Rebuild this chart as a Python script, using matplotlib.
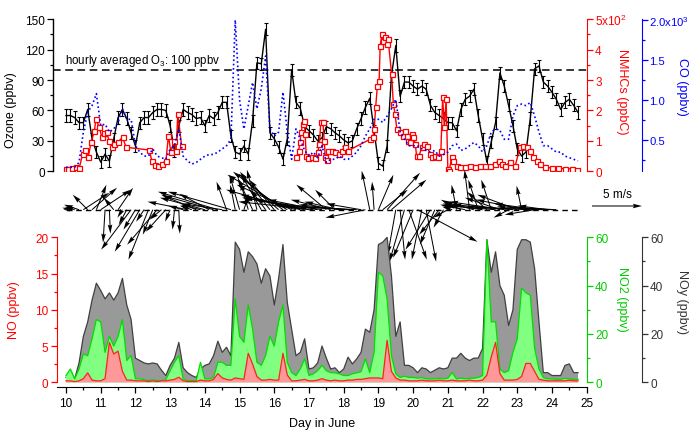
import numpy as np
import matplotlib
matplotlib.use('Agg')
import matplotlib.pyplot as plt
from matplotlib.ticker import MultipleLocator, FuncFormatter

plt.rcParams['font.family'] = ['Liberation Sans', 'DejaVu Sans']
plt.rcParams['font.size'] = 8.5
plt.rcParams['mathtext.default'] = 'regular'

# ---------------- data ----------------
DAY0 = 10.0
STEP = 0.125  # 3-hourly samples
N = 119
t3 = DAY0 + STEP * np.arange(N)

ozone = [55, 55, 53, 48, 48, 61, 32, 19, 9, 17, 10, 32, 53, 61, 52, 38,
         25, 48, 53, 53, 58, 61, 61, 60, 45, 20, 45, 61, 58, 56, 52, 53,
         45, 55, 52, 58, 68, 68, 35, 19, 17, 25, 17, 50, 107, 106, 140, 38,
         32, 24, 12, 32, 100, 68, 62, 44, 40, 36, 30, 33, 44, 42, 38, 35,
         31, 28, 30, 42, 52, 63, 72, 40, 8, 5, 25, 94, 124, 74, 88, 88,
         84, 81, 84, 81, 65, 58, 55, 52, 48, 48, 40, 61, 71, 74, 81, 55,
         32, 9, 29, 48, 97, 84, 65, 45, 22, 15, 19, 52, 101, 104, 88, 84,
         78, 71, 61, 68, 71, 65, 58]
O3_ERR = 6

co = [160, 160, 160, 220, 600, 850, 930, 1080, 680, 700, 600, 640, 720, 890, 760, 760,
      430, 350, 300, 300, 390, 300, 280, 260, 390, 430, 640, 300, 240, 200, 220, 260,
      300, 320, 320, 350, 390, 430, 510, 2000, 1000, 640, 930, 1220, 890, 1140, 1550, 640,
      550, 600, 1100, 600, 260, 640, 510, 370, 300, 350, 280, 430, 220, 260, 260, 300,
      260, 260, 300, 350, 430, 550, 640, 760, 760, 720, 800, 890, 1010, 600, 510, 430,
      430, 430, 390, 370, 350, 370, 300, 320, 350, 430, 450, 370, 390, 430, 470, 430,
      350, 430, 600, 640, 620, 510, 510, 800, 930, 950, 930, 970, 800, 600, 430, 430,
      390, 350, 350, 300, 280, 260, 240]

nmhc_day = [10.00, 10.07, 10.16, 10.29, 10.38, 10.48, 10.55, 10.64, 10.72, 10.82,
            10.86, 10.96, 11.03, 11.10, 11.17, 11.25, 11.32, 11.39, 11.49, 11.63,
            11.73, 12.40, 12.47, 12.57, 12.66, 12.76, 12.88, 12.95, 13.02, 13.12,
            13.17, 13.22, 13.33, 15.00,
            16.64, 16.70, 16.74, 16.77, 16.82, 16.86, 16.89, 16.92, 16.98, 17.08,
            17.17, 17.25, 17.30, 17.34, 17.40, 17.44, 17.47, 17.51, 17.56, 17.65,
            17.75, 17.85, 17.94, 18.04, 18.13, 18.77, 18.84, 18.88, 18.92, 18.97,
            19.02, 19.05, 19.10, 19.14, 19.19, 19.24, 19.28, 19.38, 19.43, 19.48,
            19.53, 19.62, 19.72, 19.77, 19.82, 19.86, 19.91, 19.96, 20.01, 20.06,
            20.10, 20.17, 20.25, 20.32, 20.39, 20.49, 20.54, 20.63, 20.73, 20.80,
            20.85, 20.90, 20.95, 21.00, 21.04, 21.11, 21.16, 21.26, 21.35, 21.50,
            21.64, 21.78, 21.93, 22.07, 22.22, 22.36, 22.46, 22.55, 22.65, 22.79,
            22.94, 23.08, 23.17, 23.27, 23.37, 23.46, 23.56, 23.66, 23.80, 23.99,
            24.18, 24.38, 24.57, 24.71]
nmhc_val = [8, 8, 10, 13, 10, 57, 70, 46, 95, 133,
            172, 144, 112, 125, 128, 98, 79, 90, 95, 112,
            79, 70, 35, 22, 18, 24, 35, 117, 64, 100,
            66, 188, 84, np.nan,
            46, 68, 95, 128, 155, 166, 122, 51, 44, 46,
            44, 62, 90, 161, 161, 100, 46, 38, 68, 68,
            62, 57, 68, 79, 68, 106, 112, 139, 210, 281,
            297, 412, 450, 428, 440, 417, 434, 319, 221, 188,
            139, 128, 117, 133, 115, 100, 95, 122, 112, 90,
            51, 51, 79, 90, 84, 57, 48, 51, 46, 68,
            243, 144, 237, 8, 2, 46, 35, 18, 15, 15,
            16, 15, 16, 18, 16, 24, 35, 24, 18, 29,
            18, 79, 84, 79, 68, 46, 35, 24, 13, 11,
            11, 8, 8, 5]

# wind (m/s), u eastward, v northward
wind_u = [-0.3, -0.8, -1.0, -1.5, 2.6, -1.5, 2.5, 1.0, 3.0, -0.2, 0.1, -1.0, 1.5, -0.5, -0.8, -3.0,
          -1.2, -2.5, -0.8, -2.0, -1.0, -3.0, -1.2, -2.0, -0.5, -0.2, 0.1, -1.5, -4.0, -1.2, -3.5, -2.0,
          -4.5, -3.0, -5.0, -6.0, -4.0, -1.0, -6.3, -0.5, -1.0, 0.5, -0.8, -1.5, -1.0, -2.0, -1.5, -3.0,
          -2.5, -4.0, -5.0, -6.0, -5.5, -7.0, -6.0, -5.0, -6.5, -7.5, -5.0, -8.0, -3.0, -4.0, -2.0, -3.5,
          -4.5, -7.0, -5.5, -8.0, -3.5, -4.0, -0.8, -0.2, 1.5, 2.5, 3.3, 3.5, -0.8, 0.5, -1.5, 1.8,
          -2.0, 6.0, -1.0, 1.0, -2.5, -1.5, -2.0, -1.0, -1.5, -1.0, -0.5, -2.0, -2.5, -0.5, -3.0, -1.0,
          -4.0, -2.0, -1.0, -5.0, -3.5, -5.5, -1.5, -6.0, -4.0, -0.5, -5.0, -6.5, -3.0, -4.5, -7.0, -3.0,
          -5.5, -4.0, np.nan, np.nan, np.nan, np.nan, np.nan]
wind_v = [0.1, 0.2, 0.3, 0.5, 1.7, 1.5, 2.2, 2.5, 2.0, -3.3, -2.4, 1.2, 2.2, -0.8, -1.5, -4.0,
          -2.0, -4.2, -1.2, -5.0, -2.5, -3.5, -1.0, -2.2, -1.2, -2.0, -2.4, 0.4, 0.8, 0.4, 1.5, 0.5,
          1.2, 1.6, 1.4, 1.8, 0.6, 2.8, 1.8, 2.5, 3.5, 1.5, 2.8, 3.2, 4.0, 3.5, 2.0, 3.8,
          3.0, 3.6, 3.8, 3.5, 2.5, 2.0, 1.5, 1.0, 1.2, 0.8, 1.0, 1.2, 2.5, 1.0, 2.0, 0.8,
          0.5, 0.5, 0.3, 0.4, 0.6, -0.8, 3.9, 2.8, 3.5, 2.0, 3.7, 3.0, -4.5, -5.0, -5.2, -5.0,
          -4.8, -3.2, -5.0, -5.2, -4.0, -3.5, -2.5, -1.8, -0.8, 0.3, 2.5, 1.0, 0.5, 4.0, 0.8, 3.0,
          0.6, 1.8, 3.0, 0.4, 1.2, 0.8, -0.8, 0.5, 1.5, 2.4, 1.0, 0.3, -0.5, 0.6, 0.2, 0.4,
          0.3, 0.2, np.nan, np.nan, np.nan, np.nan, np.nan]

no = [0.2, 0.2, 0.1, 0.2, 0.5, 1.3, 0.3, 0.2, 0.2, 0.5, 5.5, 3.9, 4.3, 1.5, 0.3, 0.3,
      0.2, 0.2, 0.2, 0.1, 0.2, 0.1, 0.2, 0.2, 0.3, 0.4, 0.7, 0.2, 0.1, 0.1, 0.1, 0.3,
      0.2, 0.2, 0.4, 1.2, 0.6, 0.4, 0.3, 0.6, 0.5, 0.4, 4.0, 2.5, 0.8, 0.3, 0.3, 0.4,
      0.3, 0.3, 4.0, 1.0, 0.2, 0.2, 0.3, 0.4, 0.2, 0.2, 0.3, 0.5, 0.3, 0.2, 0.3, 0.2,
      0.2, 0.3, 0.3, 0.4, 0.4, 0.5, 0.6, 0.6, 0.6, 0.5, 5.8, 1.5, 0.6, 0.3, 0.3, 0.2,
      0.2, 0.2, 0.3, 0.2, 0.2, 0.2, 0.3, 0.2, 0.2, 0.3, 0.2, 0.2, 0.2, 0.3, 0.2, 0.2,
      0.3, 1.0, 3.5, 5.5, 1.2, 0.3, 0.3, 0.3, 0.4, 0.8, 2.6, 2.6, 1.5, 0.4, 0.3, 0.2,
      0.2, 0.2, 0.2, 0.2, 0.3, 0.2, 0.2]

no2 = [2.8, 5.5, 1.4, 5.5, 11.7, 11.0, 18.0, 26.0, 25.0, 12.4, 19.0, 15.0, 19.0, 26.0, 9.0, 11.0,
       1.4, 1.4, 1.1, 0.7, 1.0, 0.7, 0.7, 1.1, 4.8, 8.3, 11.0, 1.4, 0.7, 0.7, 0.7, 8.3,
       1.4, 1.4, 2.0, 8.3, 8.3, 7.0, 7.0, 34.5, 19.0, 16.5, 32.0, 22.0, 8.3, 7.0, 11.0, 19.0,
       15.0, 25.0, 32.0, 8.3, 4.0, 2.8, 5.5, 9.7, 2.8, 3.5, 4.8, 7.0, 4.8, 4.0, 3.9, 3.5,
       2.8, 2.8, 3.5, 3.9, 4.4, 9.7, 4.0, 12.4, 45.5, 44.0, 34.5, 11.0, 3.5, 2.0, 2.5, 2.0,
       2.0, 1.7, 2.0, 1.4, 1.4, 1.4, 1.7, 1.4, 1.7, 4.0, 1.4, 1.7, 1.4, 1.7, 1.7, 2.0,
       2.8, 59.0, 25.0, 25.0, 5.5, 4.0, 4.8, 12.4, 18.0, 39.0, 37.0, 36.0, 14.0, 5.5, 2.0, 1.4,
       1.4, 1.2, 1.2, 1.6, 1.4, 1.2, 1.2]

noy = [2.0, 5.0, 1.4, 8.0, 19.0, 25.0, 34.0, 41.0, 38.0, 34.5, 37.0, 34.0, 37.0, 43.0, 32.0, 26.0,
       10.0, 9.0, 8.0, 7.6, 8.0, 7.6, 5.0, 2.8, 7.0, 10.0, 16.5, 6.0, 4.0, 2.8, 2.0, 5.5,
       7.0, 7.6, 11.0, 17.0, 12.4, 14.5, 11.0, 58.0, 55.0, 45.5, 54.0, 52.0, 49.0, 41.0, 47.0, 44.0,
       32.0, 43.0, 57.0, 33.0, 22.0, 11.0, 12.4, 18.0, 5.5, 6.0, 8.0, 15.0, 10.0, 5.5, 6.0, 4.0,
       5.5, 10.4, 7.6, 9.7, 12.4, 22.0, 20.7, 30.0, 57.0, 58.0, 60.0, 44.0, 19.0, 25.0, 7.0, 7.0,
       6.0, 4.0, 6.0, 5.5, 4.0, 5.0, 6.0, 5.5, 6.0, 10.0, 10.0, 12.0, 10.0, 9.0, 10.0, 10.0,
       14.0, 59.0, 45.5, 54.0, 40.0, 36.0, 23.5, 30.0, 55.0, 59.0, 59.0, 58.0, 47.0, 25.0, 4.0, 4.0,
       2.8, 2.8, 2.8, 7.0, 7.6, 4.0, 4.0]

# ---------------- figure ----------------
W, H = 690.0, 435.0
fig = plt.figure(figsize=(W / 100, H / 100), dpi=100)

RED = '#ff0000'
BLUE = '#0000ff'
GREEN = '#00cc00'
GREY = '#333333'


def px_box(x0, x1, ytop, ybot):
    return [x0 / W, 1 - ybot / H, (x1 - x0) / W, (ybot - ytop) / H]


def style_ticks(ax, color, major, minor, pad=2, size=8.5):
    ax.yaxis.set_major_locator(MultipleLocator(major))
    ax.yaxis.set_minor_locator(MultipleLocator(minor))
    ax.tick_params(axis='y', which='major', length=4, width=0.9, colors=color, pad=pad,
                   labelsize=size)
    ax.tick_params(axis='y', which='minor', length=2, width=0.9, colors=color)


def hide_spines(ax, keep):
    for k, s in ax.spines.items():
        s.set_visible(k in keep)


# ---- top panel: ozone / NMHCs / CO ----
ax_o3 = fig.add_axes(px_box(53.3, 586.7, 20.2, 172.3))
ax_o3.set_xlim(9.634, 25.0)
ax_o3.set_ylim(0, 150)
hide_spines(ax_o3, ['left'])
ax_o3.xaxis.set_visible(False)
style_ticks(ax_o3, 'k', 30, 15)
ax_o3.spines['left'].set_linewidth(1.0)
ax_o3.axhline(100, color='k', ls=(0, (5, 3)), lw=1.1, zorder=1)
ax_o3.text(9.97, 110, 'hourly averaged O$_3$: 100 ppbv', fontsize=8.3, va='center', ha='left')
ax_o3.errorbar(t3, ozone, yerr=O3_ERR, color='k', lw=1.0, elinewidth=0.8,
               capsize=1.6, capthick=0.8, zorder=3)
ax_o3.set_ylabel('Ozone (ppbv)', fontsize=9)
ax_o3.yaxis.set_label_coords(-0.068, 0.41)

ax_nm = ax_o3.twinx()
ax_nm.set_ylim(0, 500)
hide_spines(ax_nm, ['right'])
ax_nm.spines['right'].set_color(RED)
style_ticks(ax_nm, RED, 100, 50)
ax_nm.yaxis.set_major_formatter(FuncFormatter(
    lambda v, p: '5x10$^2$' if abs(v - 500) < 1 else '%d' % round(v / 100)))
ax_nm.plot(nmhc_day, nmhc_val, color=RED, lw=1.0, marker='s', ms=3.6,
           mfc='white', mec=RED, mew=0.9, zorder=2)
ax_nm.set_ylabel('NMHCs (ppbC)', color=RED, rotation=270, fontsize=9, va='center', ha='center')
ax_nm.yaxis.set_label_coords(1.066, 0.53)

ax_co = ax_o3.twinx()
ax_co.set_ylim(110, 2010)
hide_spines(ax_co, ['right'])
ax_co.spines['right'].set_position(('outward', 55.3 * 0.72))
ax_co.spines['right'].set_color(BLUE)
style_ticks(ax_co, BLUE, 500, 250, pad=1.2, size=8.1)
ax_co.yaxis.set_major_formatter(FuncFormatter(
    lambda v, p: '2.0x10$^3$' if abs(v - 2000) < 1 else '%.1f' % (v / 1000)))
ax_co.plot(t3, co, color=BLUE, ls=(0, (1, 1.6)), lw=1.2, zorder=2)
ax_co.set_ylabel('CO (ppbv)', color=BLUE, rotation=270, fontsize=9, va='center', ha='center')
ax_co.yaxis.set_label_coords(1.178, 0.56)

# ---- middle panel: wind vectors ----
ax_w = fig.add_axes(px_box(53.3, 586.7, 170.0, 275.0))
ax_w.set_xlim(9.634, 25.0)
ax_w.set_ylim(-6.43, 4.07)
ax_w.axis('off')
ax_w.hlines(0, t3[0], t3[-1], colors='k', linestyles=(0, (4, 3)), lw=1.0, zorder=1)
Q = ax_w.quiver(t3, np.zeros(N), np.ma.masked_invalid(wind_u), np.ma.masked_invalid(wind_v),
                angles='uv', scale_units='y', scale=1, width=0.0019,
                headwidth=4.5, headlength=9, headaxislength=8, color='k', zorder=3)
Q.set_clip_on(False)
ax_w.quiverkey(Q, 617 / W, 1 - 207 / H, 5, '5 m/s', labelpos='N', coordinates='figure',
               labelsep=0.06, fontproperties={'size': 8.5})

# ---- bottom panel: NO / NO2 / NOy ----
ax_no = fig.add_axes(px_box(56.7, 586.7, 238.3, 388.0))
ax_no.set_xlim(9.732, 25.0)
ax_no.set_ylim(-0.65, 20)
ax_no2 = ax_no.twinx()
ax_no2.set_ylim(-1.95, 60)
ax_noy = ax_no.twinx()
ax_noy.set_ylim(-1.95, 60)

ax_noy.set_zorder(1)
ax_no2.set_zorder(2)
ax_no.set_zorder(3)
for a in (ax_no, ax_no2, ax_noy):
    a.patch.set_visible(False)

ax_noy.fill_between(t3, 0, noy, facecolor='#999999', edgecolor='none')
ax_noy.plot(t3, noy, color='#404040', lw=0.9)
ax_no2.fill_between(t3, 0, no2, facecolor='#80ff80', edgecolor='none')
ax_no2.plot(t3, no2, color='#00dd00', lw=0.9)
ax_no.fill_between(t3, 0, no, facecolor='#ff9999', edgecolor='none')
ax_no.plot(t3, no, color='#ff2020', lw=0.9)

hide_spines(ax_no, ['left', 'bottom'])
ax_no.spines['left'].set_color(RED)
ax_no.spines['left'].set_bounds(0, 20)
style_ticks(ax_no, RED, 5, 2.5)
ax_no.xaxis.set_major_locator(MultipleLocator(1))
ax_no.xaxis.set_minor_locator(MultipleLocator(0.5))
ax_no.tick_params(axis='x', which='major', length=4, width=0.9, pad=3)
ax_no.tick_params(axis='x', which='minor', length=2, width=0.9)
ax_no.set_xlabel('Day in June', fontsize=9, labelpad=6)
ax_no.set_ylabel('NO (ppbv)', color=RED, fontsize=9)
ax_no.yaxis.set_label_coords(-0.069, 0.52)

hide_spines(ax_no2, ['right'])
ax_no2.spines['right'].set_color(GREEN)
ax_no2.spines['right'].set_bounds(0, 60)
style_ticks(ax_no2, GREEN, 20, 10)
ax_no2.set_ylabel('NO2 (ppbv)', color=GREEN, rotation=270, fontsize=9, va='center', ha='center')
ax_no2.yaxis.set_label_coords(1.066, 0.59)

hide_spines(ax_noy, ['right'])
ax_noy.spines['right'].set_position(('outward', 55.0 * 0.72))
ax_noy.spines['right'].set_color(GREY)
ax_noy.spines['right'].set_bounds(0, 60)
style_ticks(ax_noy, GREY, 20, 10)
ax_noy.set_ylabel('NOy (ppbv)', color=GREY, rotation=270, fontsize=9, va='center', ha='center')
ax_noy.yaxis.set_label_coords(1.179, 0.575)

fig.savefig('out.png', dpi=100)
